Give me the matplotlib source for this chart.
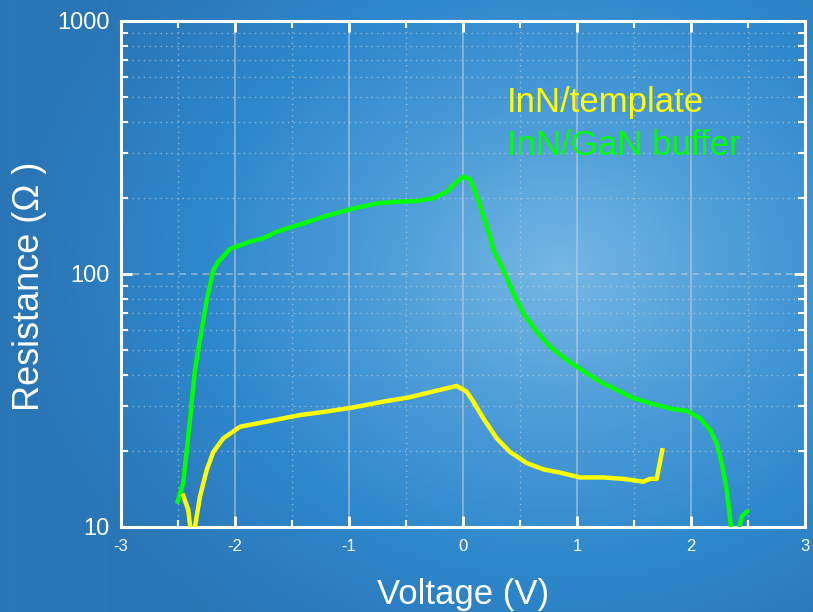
import matplotlib
matplotlib.use("Agg")
import matplotlib.pyplot as plt
import numpy as np
from matplotlib.colors import LinearSegmentedColormap

# InN/GaN buffer (green)
gan_v = [-2.503, -2.454, -2.395, -2.351, -2.322, -2.248, -2.190, -2.146, -2.044, -1.868,
         -1.752, -1.634, -1.401, -1.225, -0.991, -0.757, -0.582, -0.406, -0.261, -0.143,
         -0.055, 0.003, 0.061, 0.134, 0.237, 0.266, 0.354, 0.441, 0.529, 0.646,
         0.763, 0.910, 1.085, 1.202, 1.377, 1.494, 1.669, 1.845, 1.962, 2.079,
         2.167, 2.225, 2.269, 2.313, 2.351, 2.390, 2.424, 2.445, 2.489]
gan_r = [12.6, 14.9, 26.5, 41.8, 50.1, 78.9, 103.7, 111.9, 125.6, 134.3,
         138.5, 146.9, 158.6, 168.4, 180.2, 190.2, 193.0, 194.4, 199.2, 211.5,
         231.6, 242.6, 236.8, 196.0, 140.3, 124.4, 103.7, 83.9, 70.0, 59.2,
         51.6, 45.7, 40.5, 37.5, 34.3, 32.3, 30.6, 29.2, 28.8, 26.9,
         24.2, 21.4, 17.9, 14.0, 10.0, 8.0, 10.0, 11.0, 11.5]

# InN/template (yellow)
tmpl_v = [-2.454, -2.410, -2.395, -2.370, -2.351, -2.307, -2.248, -2.190, -2.103, -1.956,
          -1.722, -1.430, -1.196, -0.962, -0.699, -0.465, -0.231, -0.055, 0.032, 0.090,
          0.178, 0.296, 0.412, 0.559, 0.704, 0.851, 1.026, 1.231, 1.406, 1.582,
          1.640, 1.699, 1.748]
tmpl_r = [13.3, 11.7, 10.2, 9.0, 10.0, 13.2, 16.8, 19.8, 22.4, 24.9,
          26.1, 27.7, 28.6, 29.7, 31.3, 32.6, 34.6, 36.1, 34.3, 31.3,
          26.9, 22.4, 19.8, 17.9, 16.9, 16.4, 15.7, 15.7, 15.5, 15.1,
          15.5, 15.5, 20.1]

x_ticks = [-3, -2, -1, 0, 1, 2, 3]
y_ticks = [10, 100, 1000]

plt.rcParams['font.family'] = ['Liberation Sans', 'DejaVu Sans']

fig = plt.figure(figsize=(8.13, 6.12), dpi=100)

# blue radial gradient background
bg = fig.add_axes([0, 0, 1, 1], zorder=-10)
yy, xx = np.mgrid[0:612, 0:813]
d = np.sqrt(((xx - 560) / 540.0) ** 2 + ((yy - 270) / 440.0) ** 2)
d = np.clip(d, 0, 1)
cmap = LinearSegmentedColormap.from_list("bg", ["#74b8e4", "#4d9dd8", "#2e88cd", "#2a76b6"])
bg.imshow(d, cmap=cmap, aspect="auto", extent=[0, 1, 0, 1], origin="upper")
bg.axis("off")

ax = fig.add_axes([0.1488, 0.1389, 0.8414, 0.8268])
ax.patch.set_alpha(0)

ax.plot(gan_v, gan_r, color="#00ff00", lw=3.2, solid_joinstyle="round", zorder=3)
ax.plot(tmpl_v, tmpl_r, color="#ffff00", lw=3.2, solid_joinstyle="round", zorder=3)

ax.set_yscale("log")
ax.set_xlim(-3, 3)
ax.set_ylim(10, 1000)
ax.set_xticks(x_ticks)
ax.set_xticklabels([str(v) for v in x_ticks])
ax.set_xticks(np.arange(-2.5, 3, 1.0), minor=True)
ax.set_yticks(y_ticks)
ax.set_yticklabels([str(v) for v in y_ticks])

for s in ax.spines.values():
    s.set_color("white")
    s.set_linewidth(2.2)

ax.tick_params(which="both", direction="in", colors="white", top=True, right=True)
ax.tick_params(which="major", length=8, width=2)
ax.tick_params(which="minor", length=5, width=1.5)
ax.tick_params(axis="x", labelsize=12, pad=9)
ax.tick_params(axis="y", labelsize=17, pad=8)
for lbl in ax.get_xticklabels() + ax.get_yticklabels():
    lbl.set_color("white")

ax.grid(True, axis="x", which="major", color="#d0d0d0", alpha=0.6, lw=1.2, ls="-")
ax.grid(True, axis="y", which="major", color="#d0d0d0", alpha=0.6, lw=1.2, ls=(0, (4, 3)))
ax.grid(True, which="minor", color="#d8d8d8", alpha=0.55, lw=1.0, ls=(0, (1, 3)))

ax.set_xlabel("Voltage (V)", color="white", fontsize=25, labelpad=17)
ax.set_ylabel("Resistance (\u03a9 )", color="white", fontsize=26)
ax.yaxis.set_label_coords(-0.108, 0.476)

ax.text(0.564, 0.838, "InN/template", transform=ax.transAxes, color="#ffff00",
        fontsize=25, va="center", ha="left")
ax.text(0.564, 0.753, "InN/GaN buffer", transform=ax.transAxes, color="#00ff00",
        fontsize=25, va="center", ha="left")

fig.savefig("out.png", dpi=100)
